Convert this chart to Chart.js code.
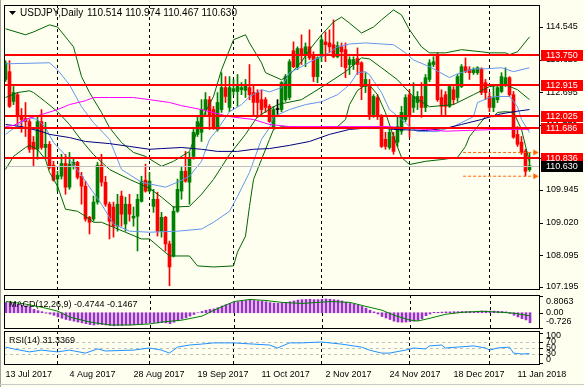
<!DOCTYPE html>
<html>
<head>
<meta charset="utf-8">
<script src="https://cdn.jsdelivr.net/npm/chart.js@4.4.1/dist/chart.umd.min.js"></script>
<style>
  html, body { margin: 0; padding: 0; background: #fffff0; }
  #wrap { position: relative; width: 584px; height: 387px; background: #fffff0; overflow: hidden; }
  canvas { position: absolute; left: 0; }
  #edgeL { position: absolute; left: 0; top: 0; width: 1px; height: 387px; background: #a0a0a0; }
  #edgeB { position: absolute; left: 0; top: 384px; width: 584px; height: 1px; background: #c8c8c8; }
</style>
</head>
<body>
<div id="wrap">
  <canvas id="main" width="584" height="294" style="top:0"></canvas>
  <canvas id="macd" width="584" height="36" style="top:294px"></canvas>
  <canvas id="rsi" width="584" height="57" style="top:330px"></canvas>
  <div id="edgeL"></div>
  <div id="edgeB"></div>
</div>
<script>
// daily candles, 13 Jul 2017 .. 16 Jan 2018
const opens = [
  113.06,113.28,112.44,112.63,112.01,111.96,111.87,111.29,111.09,111.87,
  111.14,111.23,110.64,110.25,110.33,110.69,110.02,110.64,110.72,110.33,
  110.05,109.17,109.12,109.60,110.64,110.16,109.54,109.46,108.92,109.77,
  108.98,109.54,109.15,109.20,109.62,110.22,109.91,109.48,109.68,108.78,
  109.17,108.42,108.08,109.34,109.91,110.47,110.16,110.89,111.51,111.57,
  112.21,112.49,112.21,111.65,112.21,112.83,112.27,112.72,112.72,112.77,
  112.75,112.83,112.69,112.69,112.49,112.49,112.30,111.73,112.21,112.21,
  112.49,112.55,113.87,113.42,113.93,113.76,113.98,113.73,113.14,113.70,
  114.12,114.09,114.04,113.70,113.98,113.90,113.48,113.48,113.65,113.53,
  112.86,112.86,112.07,112.55,112.01,111.37,111.14,111.45,111.29,111.60,
  111.93,112.63,112.27,112.41,112.58,112.27,113.06,113.48,113.76,112.55,
  112.63,112.30,112.77,112.55,112.86,113.42,113.34,113.25,113.25,113.36,
  112.97,112.58,112.27,112.49,112.72,112.91,113.11,112.63,111.51,111.29,
  111.03,110.514
];
const highs = [
  113.59,113.59,112.86,112.69,112.24,112.41,111.93,111.45,111.99,112.21,
  111.85,111.31,110.75,110.47,110.95,110.95,111.00,110.86,110.75,110.44,
  110.19,109.20,109.77,110.72,110.95,110.33,109.60,109.60,109.82,109.91,
  109.74,109.82,109.46,109.82,110.33,110.67,110.44,109.96,109.88,109.31,
  109.20,108.50,109.48,110.25,110.58,111.03,111.00,111.65,112.01,112.49,
  112.69,112.58,112.30,112.69,113.25,113.14,113.14,113.06,113.20,112.97,
  113.06,113.48,112.91,112.77,112.77,112.55,112.35,112.30,112.49,113.00,
  113.20,113.62,114.12,113.98,114.32,114.09,114.46,113.84,113.70,114.26,
  114.40,114.46,114.74,114.12,114.09,114.09,113.70,113.70,113.95,113.56,
  113.25,113.06,112.63,112.63,112.07,111.57,111.65,111.57,112.01,112.30,
  112.63,112.77,112.97,112.72,112.97,113.20,113.62,113.70,113.81,112.77,
  112.72,112.91,112.86,113.20,113.48,113.67,113.42,113.39,113.42,113.39,
  113.06,112.69,112.91,112.91,113.25,113.39,113.14,112.72,111.73,111.45,
  111.09,110.974
];
const lows = [
  113.00,112.27,112.35,111.79,111.57,111.45,111.00,110.61,110.81,111.09,
  110.81,110.53,110.19,109.91,110.25,109.82,109.96,110.53,110.25,109.54,
  109.06,108.70,109.06,109.54,110.05,109.48,108.56,108.61,108.78,108.92,
  108.78,109.06,108.92,108.22,109.60,109.88,109.88,109.31,108.64,108.61,
  108.22,107.24,108.05,109.31,109.68,110.16,109.54,110.81,111.45,111.31,
  112.01,111.65,111.65,111.60,112.13,112.41,112.15,112.63,112.30,112.63,
  112.55,112.49,112.01,111.99,112.07,112.13,111.85,111.71,112.01,112.15,
  112.44,112.49,113.39,113.34,113.48,113.42,113.62,113.00,112.97,113.56,
  113.56,113.81,113.67,113.67,113.42,113.11,113.20,113.34,113.20,112.49,
  112.69,111.93,111.99,111.93,111.14,111.09,111.09,110.95,111.17,111.51,
  111.87,111.43,112.13,112.21,111.99,112.15,113.00,113.42,112.44,112.01,
  112.01,112.27,112.35,112.44,112.83,113.25,113.06,113.20,113.20,112.63,
  112.49,112.15,112.15,112.41,112.69,112.86,112.58,111.40,111.17,110.95,
  110.33,110.467
];
const closes = [
  113.53,112.30,112.69,112.01,111.93,111.87,111.09,111.09,111.87,111.14,
  111.23,110.58,110.22,110.36,110.69,110.02,110.67,110.72,110.30,110.05,
  109.12,109.03,109.60,110.64,110.16,109.54,109.06,108.92,109.54,109.26,
  109.54,109.26,109.20,109.68,110.19,109.91,110.19,109.68,108.78,109.17,
  108.42,107.77,109.34,109.96,110.47,110.19,110.86,111.57,111.87,112.21,
  112.49,112.01,111.71,112.41,112.83,112.58,112.83,112.80,112.86,112.83,
  112.91,112.63,112.41,112.41,112.21,112.27,111.87,112.21,112.21,112.97,
  113.14,113.56,113.42,113.93,113.76,113.98,113.67,113.14,113.67,114.18,
  114.04,113.98,113.70,114.01,113.84,113.39,113.62,113.62,113.48,112.86,
  113.06,112.07,112.58,112.01,111.17,111.17,111.57,111.03,111.73,112.13,
  112.55,112.01,112.58,112.58,112.27,113.11,113.53,113.56,112.49,112.30,
  112.30,112.86,112.49,113.14,113.42,113.28,113.25,113.34,113.39,112.69,
  112.69,112.27,112.55,112.83,113.14,113.11,112.63,111.43,111.23,111.00,
  110.47,110.630
];

// indicator lines: [bar, value]
const bbUpper = [[0,114.49],[5,114.32],[7,114.40],[11,114.60],[13,114.54],[15,114.26],[17,113.98],[19,113.14],[21,112.69],[24,112.13],[26,111.70],[29,111.28],[32,111.00],[35,110.89],[39,110.61],[42,110.75],[46,111.03],[49,111.93],[52,112.58],[54,113.33],[57,114.18],[60,114.32],[61,114.09],[64,113.53],[65,113.25],[69,113.05],[71,113.19],[74,113.56],[76,113.90],[79,114.32],[82,114.68],[84,114.82],[86,114.65],[89,114.37],[92,114.54],[94,114.74],[97,115.02],[99,114.88],[101,114.46],[104,113.98],[106,113.81],[110,113.81],[114,113.90],[119,113.84],[121,113.81],[125,113.81],[126,113.76],[128,113.84],[131,114.26]];
const bbMiddle = [[0,112.55],[3,112.69],[6,112.74],[7,112.69],[10,112.43],[13,112.15],[16,111.79],[19,111.34],[22,110.94],[26,110.52],[31,110.24],[36,109.99],[39,109.74],[42,109.46],[46,109.48],[49,109.82],[52,110.24],[56,110.94],[60,111.51],[63,112.01],[68,112.35],[74,112.49],[80,112.91],[85,113.28],[89,113.67],[91,113.64],[94,113.39],[98,113.05],[102,112.57],[106,112.29],[112,112.35],[117,112.63],[121,112.86],[125,112.91],[128,112.77],[131,112.49]];
const bbLower = [[0,110.52],[2,110.89],[5,111.14],[6,111.20],[8,111.09],[10,110.80],[11,110.44],[13,110.05],[15,109.40],[18,109.34],[20,109.20],[22,109.03],[24,109.03],[27,108.89],[30,108.75],[34,108.56],[36,108.56],[41,108.08],[46,108.08],[48,107.80],[52,107.77],[57,107.80],[58,108.19],[60,108.64],[61,109.48],[62,110.24],[64,110.80],[66,111.37],[67,111.65],[69,111.73],[75,111.70],[79,111.70],[83,111.73],[85,111.93],[86,112.35],[88,112.75],[90,112.90],[91,112.90],[93,112.63],[95,112.12],[97,111.45],[99,110.86],[101,110.66],[105,110.75],[109,110.80],[113,110.86],[115,111.17],[116,111.45],[118,111.73],[120,112.01],[122,112.01],[123,112.13],[125,112.15],[127,112.13],[129,111.65],[131,110.72]];
const innerUpper = [[0,113.50],[11,113.53],[13,113.33],[16,112.91],[19,112.29],[22,111.84],[26,111.37],[29,110.52],[34,110.16],[40,110.02],[43,110.16],[46,110.33],[49,110.75],[51,111.37],[53,111.65],[56,112.15],[59,112.35],[61,112.57],[64,112.77],[66,112.71],[69,112.83],[71,113.25],[74,113.42],[77,113.61],[80,113.75],[83,113.98],[86,114.06],[90,114.09],[94,114.06],[97,114.04],[100,113.81],[102,113.61],[106,113.42],[111,113.11],[113,113.22],[117,113.36],[120,113.36],[124,113.39],[127,113.28],[131,113.39]];
const innerLower = [[0,111.51],[4,111.84],[6,111.98],[8,111.93],[10,111.70],[12,111.28],[16,110.80],[20,110.19],[24,109.54],[27,108.98],[31,108.78],[36,108.75],[43,108.78],[49,108.84],[52,109.03],[56,109.34],[58,109.76],[61,110.44],[64,111.37],[66,111.70],[67,112.01],[71,112.21],[75,112.35],[79,112.43],[83,112.63],[86,112.91],[88,113.25],[90,113.28],[91,113.19],[94,112.69],[96,112.21],[99,111.93],[101,111.73],[103,111.59],[108,111.59],[112,111.73],[117,112.01],[118,112.41],[121,112.55],[123,112.58],[126,112.58],[128,112.29],[129,111.93],[131,111.56]];
const sma100 = [[0,111.79],[4,111.73],[9,111.59],[11,111.51],[16,111.42],[20,111.31],[26,111.25],[31,111.17],[36,111.09],[39,111.11],[44,111.14],[49,111.09],[53,111.03],[58,111.03],[62,111.09],[66,111.11],[71,111.20],[76,111.31],[81,111.51],[86,111.65],[93,111.71],[97,111.65],[105,111.62],[110,111.68],[114,111.79],[119,111.93],[123,112.07],[127,112.15],[131,112.21]];
const sma200 = [[0,111.73],[2,111.76],[5,111.93],[9,112.07],[13,112.21],[16,112.35],[20,112.46],[22,112.55],[26,112.55],[32,112.55],[36,112.49],[41,112.41],[44,112.32],[49,112.21],[56,112.01],[62,111.93],[66,111.79],[71,111.73],[86,111.73],[96,111.73],[98,111.71],[105,111.65],[110,111.60],[115,111.62],[123,111.65],[131,111.65]];

const macdMain = [
  0.49,0.47,0.45,0.40,0.36,0.32,0.28,0.16,0.10,0.05,
  -0.02,-0.06,-0.12,-0.20,-0.26,-0.32,-0.36,-0.40,-0.44,-0.48,
  -0.52,-0.56,-0.58,-0.55,-0.56,-0.58,-0.60,-0.62,-0.60,-0.60,
  -0.58,-0.58,-0.57,-0.56,-0.52,-0.50,-0.48,-0.46,-0.48,-0.47,
  -0.48,-0.52,-0.45,-0.38,-0.30,-0.24,-0.16,-0.08,0.00,0.06,
  0.12,0.16,0.18,0.24,0.32,0.38,0.44,0.48,0.52,0.55,
  0.58,0.60,0.58,0.56,0.54,0.52,0.48,0.46,0.45,0.46,
  0.48,0.52,0.56,0.60,0.62,0.63,0.64,0.62,0.62,0.64,
  0.65,0.64,0.62,0.60,0.56,0.50,0.44,0.40,0.36,0.30,
  0.22,0.12,0.04,-0.06,-0.18,-0.25,-0.32,-0.40,-0.44,-0.45,
  -0.44,-0.42,-0.40,-0.36,-0.28,-0.14,-0.06,0.02,0.02,0.03,
  0.04,0.04,0.05,0.05,0.06,0.06,0.06,0.05,0.06,0.08,
  0.08,0.08,0.08,0.07,0.06,0.04,-0.04,-0.12,-0.20,-0.28,
  -0.34,-0.4744
];
const macdSignal = [[0,0.53],[4,0.44],[9,0.26],[13,0.07],[16,-0.21],[21,-0.44],[26,-0.58],[31,-0.58],[36,-0.53],[39,-0.44],[44,-0.35],[49,-0.16],[52,0.12],[57,0.53],[61,0.63],[65,0.58],[69,0.49],[74,0.44],[81,0.53],[86,0.49],[90,0.30],[94,0.12],[97,-0.12],[101,-0.35],[103,-0.39],[106,-0.26],[110,-0.07],[114,0.02],[119,0.07],[124,0.02],[127,-0.02],[131,-0.1467]];
const rsi14 = [[0,53],[2,47],[6,37],[9,43],[13,37],[16,43],[20,33],[23,47],[25,40],[32,43],[36,50],[39,43],[41,33],[43,53],[46,60],[49,63],[52,67],[57,67],[62,63],[66,60],[68,50],[71,67],[74,67],[79,70],[84,63],[89,53],[91,43],[94,33],[96,33],[100,43],[102,50],[105,47],[106,57],[109,60],[110,50],[113,53],[117,57],[120,50],[121,43],[123,50],[126,53],[127,33],[129,30],[131,31.34]];

// horizontal objects and scale labels
const levelPrices = [113.750, 112.915, 112.025, 111.686, 110.836];
const bidPrice = 110.630;
const markerLevels = [111.00, 110.33];
const markerSpan = [114.4, 132.4];
const priceTicks = [114.545, 113.620, 112.695, 111.770, 110.845, 109.945, 109.020, 108.095, 107.195];
const macdTicks = [0.8063, 0, -0.726];
const macdTickText = ['0.8063', '0.00', '-0.726'];
const rsiTicks = [100, 70, 50, 30, 0];
const rsiLevels = [70, 50, 30];
const dateLabels = ['13 Jul 2017', '4 Aug 2017', '28 Aug 2017', '19 Sep 2017', '11 Oct 2017', '2 Nov 2017', '24 Nov 2017', '18 Dec 2017', '11 Jan 2018'];
const dateEvery = 16;
const monthStarts = [13, 36, 57, 79, 101, 121];

const FAMILY = '"Liberation Sans", Arial, sans-serif';
const FONT = '9px ' + FAMILY;
const X_MIN = -0.375, X_MAX = 133.625;
const UP = '#008000', DOWN = '#ff0000';

const bars = opens.map((_, i) => i);
const candleColor = i => closes[i] > opens[i] ? UP : (closes[i] < opens[i] ? DOWN : '#000000');
const toXY = arr => arr.map(p => ({ x: p[0], y: p[1] }));

function line(data, color, order) {
  return { type: 'line', data: toXY(data), borderColor: color, borderWidth: 1, pointRadius: 0, tension: 0, order: order || 1 };
}

function frame(chart) {
  const { ctx, chartArea: a } = chart;
  ctx.save();
  ctx.strokeStyle = '#000';
  ctx.lineWidth = 1;
  ctx.strokeRect(a.left + 0.5, a.top + 0.5, a.right - a.left - 1, a.bottom - a.top - 1);
  ctx.restore();
}

function separators(chart) {
  const { ctx, chartArea: a, scales: { x } } = chart;
  ctx.save();
  ctx.strokeStyle = '#000';
  ctx.lineWidth = 1;
  ctx.setLineDash([3, 3]);
  monthStarts.forEach(m => {
    const px = Math.floor(x.getPixelForValue(m) + 0.01) + 0.5;
    ctx.beginPath();
    ctx.moveTo(px, a.top);
    ctx.lineTo(px, a.bottom);
    ctx.stroke();
  });
  ctx.restore();
}

function rightLabels(chart, texts, pad) {
  const { ctx, chartArea: a, scales: { y } } = chart;
  ctx.save();
  ctx.font = FONT;
  ctx.fillStyle = '#000';
  ctx.textBaseline = 'middle';
  y.ticks.forEach((t, i) => {
    const py = y.getPixelForValue(t.value);
    ctx.fillRect(a.right, Math.round(py), 3, 1);
    const ly = Math.min(Math.max(py, a.top + pad), a.bottom - pad);
    ctx.fillText(texts[i], a.right + 6, ly);
  });
  ctx.restore();
}

function yAxis(min, max, ticks) {
  return {
    position: 'right', min, max, bounds: 'data',
    grid: { display: false }, border: { display: false },
    ticks: { display: false },
    afterBuildTicks: s => { s.ticks = ticks.map(v => ({ value: v })); },
    afterFit: s => { s.width = 44; }
  };
}
const xHidden = { type: 'linear', min: X_MIN, max: X_MAX, bounds: 'data', offset: false, display: false };

const base = {
  responsive: false, animation: false, events: [],
  plugins: { legend: { display: false }, tooltip: { enabled: false } }
};

// ---------- main price panel ----------
new Chart(document.getElementById('main'), {
  type: 'bar',
  data: {
    datasets: [
      {
        data: bars.map(i => ({ x: i, y: [lows[i], highs[i]] })),
        backgroundColor: ctx => candleColor(ctx.dataIndex),
        barThickness: 1, grouped: false, order: 6
      },
      {
        data: bars.map(i => ({ x: i, y: [opens[i], closes[i]] })),
        backgroundColor: ctx => candleColor(ctx.dataIndex),
        barThickness: 3, minBarLength: 1, grouped: false, order: 5
      },
      line(sma200, '#ff00ff'),
      line(sma100, '#000080'),
      line(innerUpper, '#6495ed'),
      line(innerLower, '#6495ed'),
      line(bbUpper, '#006400'),
      line(bbMiddle, '#006400'),
      line(bbLower, '#006400'),
      ...markerLevels.map(v => ({
        type: 'line',
        data: markerSpan.map(x => ({ x, y: v })),
        borderColor: '#ff6a00', borderWidth: 1, borderDash: [3, 2],
        pointStyle: 'triangle', rotation: 90,
        pointRadius: c => c.dataIndex === 1 ? 3.5 : 0,
        pointBackgroundColor: '#ff6a00', pointBorderWidth: 0, order: 0
      }))
    ]
  },
  options: {
    ...base,
    layout: { padding: { top: 5, left: 4, bottom: 1, right: 0 } },
    scales: { x: xHidden, y: yAxis(107.12, 115.16, priceTicks) }
  },
  plugins: [{
    id: 'mainDeco',
    beforeDatasetsDraw: separators,
    afterDatasetsDraw(chart) {
      const { ctx, chartArea: a, scales: { y } } = chart;
      ctx.save();
      const by = Math.round(y.getPixelForValue(bidPrice));
      ctx.fillStyle = '#c0c0c0';
      ctx.fillRect(a.left + 1, by, a.right - a.left - 2, 1);
      ctx.fillStyle = '#ff0000';
      levelPrices.forEach(v => {
        const py = Math.round(y.getPixelForValue(v));
        ctx.fillRect(a.left + 1, py - 1, a.right - a.left - 2, 2);
      });
      ctx.restore();
    },
    afterDraw(chart) {
      const { ctx, chartArea: a, scales: { y } } = chart;
      frame(chart);
      rightLabels(chart, priceTicks.map(v => v.toFixed(3)), 3);
      ctx.save();
      ctx.font = FONT;
      ctx.textBaseline = 'middle';
      const box = (v, color) => {
        const py = Math.round(y.getPixelForValue(v));
        ctx.fillStyle = color;
        ctx.fillRect(a.right + 1, py - 5, 42, 11);
        ctx.fillStyle = '#ffffff';
        ctx.fillText(v.toFixed(3), a.right + 6, py + 0.5);
      };
      levelPrices.forEach(v => box(v, '#ff0000'));
      box(bidPrice, '#000000');
      // title
      ctx.fillStyle = '#000';
      ctx.beginPath();
      ctx.moveTo(9, 11); ctx.lineTo(16, 11); ctx.lineTo(12.5, 15); ctx.closePath();
      ctx.fill();
      ctx.font = '10px ' + FAMILY;
      ctx.fillText('USDJPY,Daily', 20, 13.5);
      ctx.fillText([opens[131], highs[131], lows[131], closes[131]].map(v => v.toFixed(3)).join(' '), 87, 13.5);
      ctx.restore();
    }
  }]
});

// ---------- MACD panel ----------
new Chart(document.getElementById('macd'), {
  type: 'bar',
  data: {
    datasets: [
      { data: bars.map(i => ({ x: i, y: macdMain[i] })), backgroundColor: '#9932cc', barThickness: 2, grouped: false, order: 5 },
      line(macdSignal, '#008000')
    ]
  },
  options: {
    ...base,
    layout: { padding: { top: 1, left: 4, bottom: 1, right: 0 } },
    scales: { x: { ...xHidden, min: X_MIN - 0.125, max: X_MAX - 0.125 }, y: yAxis(-0.77, 0.84, macdTicks) }
  },
  plugins: [{
    id: 'macdDeco',
    beforeDatasetsDraw: separators,
    afterDraw(chart) {
      frame(chart);
      rightLabels(chart, macdTickText, 7);
      const { ctx } = chart;
      ctx.save();
      ctx.font = FONT; ctx.fillStyle = '#000'; ctx.textBaseline = 'middle';
      ctx.fillText('MACD(12,26,9) -0.4744 -0.1467', 9, 10.5);
      ctx.restore();
    }
  }]
});

// ---------- RSI panel ----------
new Chart(document.getElementById('rsi'), {
  type: 'line',
  data: { datasets: [line(rsi14, '#1e90ff')] },
  options: {
    ...base,
    layout: { padding: { top: 1, left: 4, bottom: 0, right: 0 } },
    scales: {
      x: {
        type: 'linear', min: X_MIN, max: X_MAX, bounds: 'data', offset: false,
        grid: { display: false, drawTicks: false, tickLength: 0 }, border: { display: false },
        ticks: {
          autoSkip: false, maxRotation: 0, align: 'start', padding: 4,
          font: { family: FAMILY, size: 9 }, color: '#000',
          callback: (v, i) => dateLabels[i]
        },
        afterBuildTicks: s => { s.ticks = dateLabels.map((_, i) => ({ value: i * dateEvery })); },
        afterFit: s => { s.height = 22; }
      },
      y: yAxis(-6.7, 106.7, rsiTicks)
    }
  },
  plugins: [{
    id: 'rsiDeco',
    beforeDatasetsDraw(chart) {
      const { ctx, chartArea: a, scales: { y } } = chart;
      ctx.save();
      ctx.strokeStyle = '#c0c0c0';
      ctx.setLineDash([3, 3]);
      rsiLevels.forEach(v => {
        const py = Math.round(y.getPixelForValue(v)) + 0.5;
        ctx.beginPath(); ctx.moveTo(a.left, py); ctx.lineTo(a.right, py); ctx.stroke();
      });
      ctx.restore();
      separators(chart);
    },
    afterDraw(chart) {
      frame(chart);
      rightLabels(chart, rsiTicks.map(String), 5);
      const { ctx } = chart;
      ctx.save();
      ctx.font = FONT; ctx.fillStyle = '#000'; ctx.textBaseline = 'middle';
      ctx.fillText('RSI(14) 31.3369', 9, 10.5);
      ctx.restore();
    }
  }]
});
</script>
</body>
</html>
